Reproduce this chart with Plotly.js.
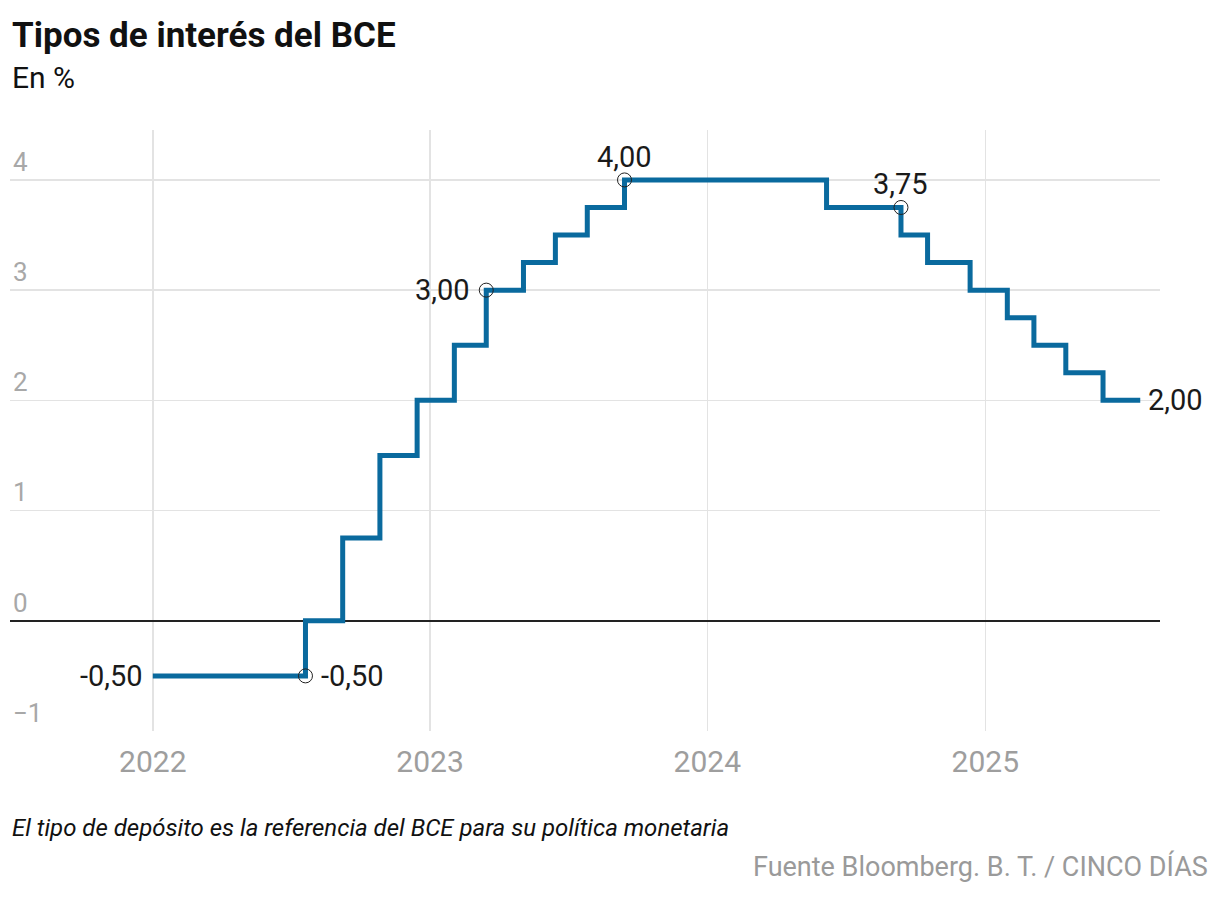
<!DOCTYPE html>
<html>
<head>
<meta charset="utf-8">
<script src="https://cdn.plot.ly/plotly-3.0.1.min.js"></script>
<style>
html,body{margin:0;padding:0;background:#fff;}
#chart{width:1220px;height:898px;}
</style>
</head>
<body>
<div id="chart"></div>
<script>
// ECB deposit facility rate (%) — step changes
const dates = ['2022-01-01','2022-07-21','2022-09-08','2022-10-27','2022-12-15','2023-02-02','2023-03-16','2023-05-04','2023-06-15','2023-07-27','2023-09-14','2024-06-06','2024-09-12','2024-10-17','2024-12-12','2025-01-30','2025-03-06','2025-04-17','2025-06-05','2025-07-24'];
const rates = [-0.5, 0, 0.75, 1.5, 2, 2.5, 3, 3.25, 3.5, 3.75, 4, 3.75, 3.5, 3.25, 3, 2.75, 2.5, 2.25, 2, 2];

// highlighted points
const markDates = ['2022-07-21','2023-03-16','2023-09-14','2024-09-12'];
const markRates = [-0.5, 3, 4, 3.75];

// value labels
const labelDates = ['2022-01-01','2022-07-21','2023-03-16','2023-09-14','2024-09-12','2025-07-24'];
const labelRates = [-0.5, -0.5, 3, 4, 3.75, 2];
const labelTexts = ['-0,50','-0,50','3,00','4,00','3,75','2,00'];
const labelPos = ['left','right','left','top','top','right'];

const yTicks = [-1, 0, 1, 2, 3, 4];
const xTicks = ['2022-01-01','2023-01-01','2024-01-01','2025-01-01'];
const xTickText = ['2022','2023','2024','2025'];

const FONT = 'Roboto, "Liberation Sans", sans-serif';
const LINE = '#0a6a9e';

const traces = [
  {
    x: dates, y: rates, type: 'scatter', mode: 'lines',
    line: {shape: 'hv', color: LINE, width: 5},
    hoverinfo: 'skip'
  },
  {
    x: markDates, y: markRates, type: 'scatter', mode: 'markers',
    marker: {symbol: 'circle-open', size: 14, color: '#222', line: {width: 1, color: '#222'}},
    hoverinfo: 'skip'
  }
];

const annotations = labelTexts.map((t, i) => {
  const p = labelPos[i];
  const a = {
    x: labelDates[i], y: labelRates[i], xref: 'x', yref: 'y', text: t, showarrow: false,
    font: {family: FONT, size: 29, color: '#1a1a1a'}
  };
  if (p === 'left') { a.xanchor = 'right'; a.yanchor = 'middle'; a.xshift = (i === 0 ? -8 : -14); }
  if (p === 'right') { a.xanchor = 'left'; a.yanchor = 'middle'; a.xshift = (i === 1 ? 14 : 6); }
  if (p === 'top') { a.xanchor = 'center'; a.yanchor = 'bottom'; a.yshift = 4; }
  return a;
});

annotations.push(
  {xref: 'paper', yref: 'paper', x: 0, y: 1.158, xanchor: 'left', yanchor: 'middle', showarrow: false,
   text: '<b>Tipos de interés del BCE</b>', font: {family: FONT, size: 35, color: '#111'}},
  {xref: 'paper', yref: 'paper', x: 0, y: 1.088, xanchor: 'left', yanchor: 'middle', showarrow: false,
   text: 'En %', font: {family: FONT, size: 30, color: '#111'}},
  {xref: 'paper', yref: 'paper', x: 0, y: -0.161, xanchor: 'left', yanchor: 'middle', showarrow: false,
   text: '<i>El tipo de depósito es la referencia del BCE para su política monetaria</i>', font: {family: FONT, size: 24, color: '#111'}},
  {xref: 'paper', yref: 'paper', x: 1.0435, y: -0.226, xanchor: 'right', yanchor: 'middle', showarrow: false,
   text: 'Fuente Bloomberg. B. T. / CINCO DÍAS', font: {family: FONT, size: 27, color: '#9a9a9a'}}
);

const layout = {
  width: 1220, height: 898,
  margin: {l: 10, r: 60, t: 130, b: 167},
  paper_bgcolor: '#fff', plot_bgcolor: '#fff',
  showlegend: false,
  font: {family: FONT},
  xaxis: {
    type: 'date',
    range: ['2021-06-27', '2025-08-19'],
    tickvals: xTicks, ticktext: xTickText,
    showgrid: true, gridcolor: '#e3e3e3', gridwidth: 1.5,
    zeroline: false, showline: false, ticks: '',
    tickfont: {family: FONT, size: 30, color: '#9e9e9e'},
    ticklabelstandoff: 10,
    fixedrange: true
  },
  yaxis: {
    range: [-1, 4.453],
    tickvals: yTicks,
    showgrid: true, gridcolor: '#e3e3e3', gridwidth: 1.5,
    zeroline: true, zerolinecolor: '#222', zerolinewidth: 1.5,
    showline: false, ticks: '',
    ticklabelposition: 'inside top',
    tickfont: {family: FONT, size: 26, color: '#a8a8a8'},
    fixedrange: true
  },
  annotations: annotations
};

Plotly.newPlot('chart', traces, layout, {displayModeBar: false, staticPlot: true});
</script>
</body>
</html>
